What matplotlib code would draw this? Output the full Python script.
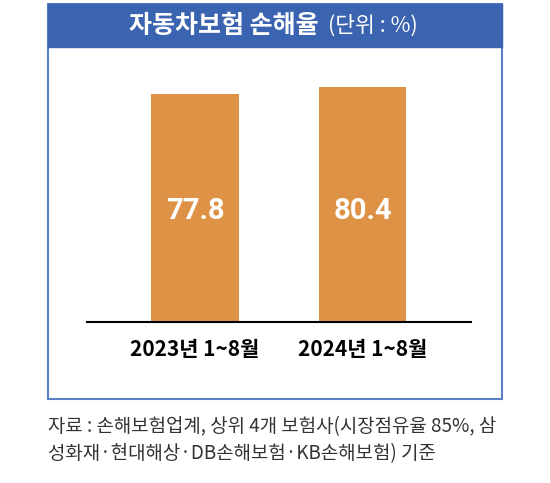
import matplotlib
matplotlib.use('Agg')
import matplotlib.pyplot as plt
from matplotlib.patches import Rectangle
import matplotlib.transforms as mtransforms

plt.rcParams['font.family'] = ['Noto Sans CJK KR', 'DejaVu Sans']

categories = ['2023년 1~8월', '2024년 1~8월']
values = [77.8, 80.4]
value_labels = ['77.8', '80.4']
title_main = '자동차보험 손해율'
title_unit = '(단위 : %)'
note_lines = ['자료 : 손해보험업계, 상위 4개 보험사(시장점유율 85%, 삼',
              '성화재·현대해상·DB손해보험·KB손해보험) 기준']

W, H = 550, 483
blue = '#3A63B0'
orange = '#DE9246'

fig = plt.figure(figsize=(W / 100, H / 100), dpi=100)

def fx(px):
    return px / W

def fy(py):
    return 1 - py / H

# box border + header bar
fig.patches.append(Rectangle((fx(48), fy(399)), fx(502) - fx(48), fy(4) - fy(399),
                             transform=fig.transFigure, fill=False,
                             edgecolor='#5B7FC4', lw=1.5))
fig.patches.append(Rectangle((fx(48), fy(47)), fx(502) - fx(48), fy(4) - fy(47),
                             transform=fig.transFigure, facecolor=blue,
                             edgecolor=blue, lw=1))

fig.text(fx(319), fy(26), title_main, color='white', fontsize=18,
         fontweight='heavy', ha='right', va='center')
fig.text(fx(328), fy(26), title_unit, color='white', fontsize=15.5,
         ha='left', va='center')

ax = fig.add_axes([fx(87), fy(322), fx(471) - fx(87), fy(47) - fy(322)])
x = list(range(len(categories)))
ax.bar(x, values, width=0.525, color=orange)
ax.set_xlim(-0.645, 1.648)
ax.set_ylim(0, 93.9)

for s in ['top', 'left', 'right']:
    ax.spines[s].set_visible(False)
ax.spines['bottom'].set_color('black')
ax.spines['bottom'].set_linewidth(1.5)
ax.set_yticks([])
ax.set_xticks(x)
ax.set_xticklabels(categories, fontsize=15, fontweight='bold', color='black')
ax.tick_params(axis='x', length=0, pad=12)

trans = mtransforms.blended_transform_factory(ax.transData, ax.transAxes)
for xi, lab in zip(x, value_labels):
    ax.text(xi, 0.404, lab, transform=trans, ha='center', va='center',
            color='white', fontsize=21, fontweight='bold',
            family=['Roboto', 'DejaVu Sans'])

fig.text(fx(48), fy(427), note_lines[0], fontsize=13.6, color='#333333',
         ha='left', va='center')
fig.text(fx(48), fy(454), note_lines[1], fontsize=13.6, color='#333333',
         ha='left', va='center')

plt.savefig('out.png', dpi=100)
